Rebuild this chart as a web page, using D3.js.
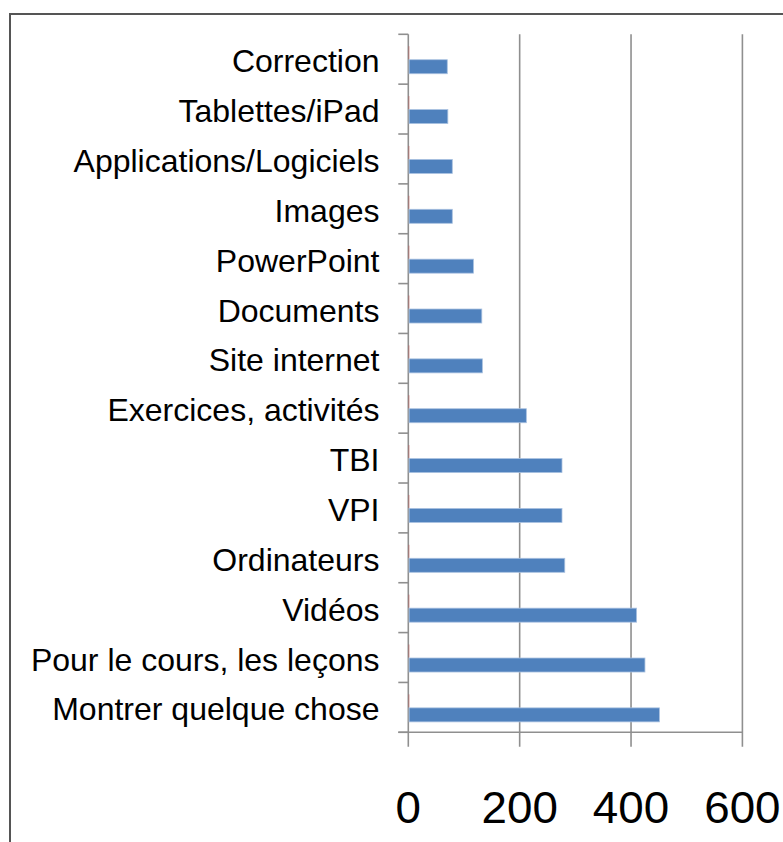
<!DOCTYPE html>
<html><head><meta charset="utf-8">
<script src="https://cdn.jsdelivr.net/npm/d3@7"></script>
<style>html,body{margin:0;padding:0;background:#fff;overflow:hidden}</style>
</head><body>
<svg id="chart" width="783" height="842"></svg>
<script>
const categories = ["Correction","Tablettes/iPad","Applications/Logiciels","Images","PowerPoint","Documents","Site internet","Exercices, activités","TBI","VPI","Ordinateurs","Vidéos","Pour le cours, les leçons","Montrer quelque chose"];
const seriesNames = ["Série 1","Série 2"];
const series1 = [0,0,0,0,0,0,0,0,0,0,0,0,0,0];
const series2 = [70,71,79,79,117,132,133,212,276,276,281,410,425,451];
const xTicks = [0,200,400,600];

(function(){
const svg = d3.select("#chart");
svg.append("rect").attr("x",10).attr("y",14).attr("width",820).attr("height",860)
  .attr("fill","#fff").attr("stroke","#555").attr("stroke-width",2);

const pLeft = 408.3, pRight = 742.4, pTop = 34.3, pBottom = 732.3;
const x = d3.scaleLinear().domain([0,600]).range([pLeft,pRight]);
const y = d3.scaleBand().domain(categories).range([pTop,pBottom]).padding(0);
const bw = y.bandwidth();
const ySub = d3.scaleBand().domain(seriesNames).range([bw/2-14, bw/2+14]).padding(0);
const axisColor = "#8f8f8f";

const g = svg.append("g");
g.selectAll("line.grid").data(xTicks.slice(1)).join("line")
  .attr("x1",d=>x(d)).attr("x2",d=>x(d)).attr("y1",pTop).attr("y2",pBottom+14.5)
  .attr("stroke",axisColor).attr("stroke-width",1.6);

g.append("line").attr("x1",pLeft-10).attr("x2",pRight).attr("y1",pBottom).attr("y2",pBottom)
  .attr("stroke",axisColor).attr("stroke-width",1.6);
g.append("line").attr("x1",x(0)).attr("x2",x(0)).attr("y1",pTop).attr("y2",pBottom+14.5)
  .attr("stroke",axisColor).attr("stroke-width",1.6);

const bounds = categories.map(c=>y(c)).concat([pBottom]);
g.selectAll("line.ctick").data(bounds).join("line")
  .attr("x1",pLeft-10).attr("x2",pLeft).attr("y1",d=>d).attr("y2",d=>d)
  .attr("stroke",axisColor).attr("stroke-width",1.6);

svg.append("g").selectAll("rect").data(series1).join("rect")
  .attr("x",x(0)).attr("y",(d,i)=>y(categories[i])+ySub(seriesNames[0])+1)
  .attr("width",d=>Math.max(1.2,x(d)-x(0))).attr("height",ySub.bandwidth()-1)
  .attr("fill","#c0504d").attr("opacity",0.45);

svg.append("g").selectAll("rect").data(series2).join("rect")
  .attr("x",x(0)+0.8).attr("y",(d,i)=>y(categories[i])+ySub(seriesNames[1])+0.5)
  .attr("width",d=>x(d)-x(0)-0.8).attr("height",ySub.bandwidth())
  .attr("fill","#4f81bd").attr("stroke","#a9c1e0").attr("stroke-width",0.8);

svg.append("g").selectAll("text").data(categories).join("text")
  .attr("x",379.5).attr("y",d=>y(d)+bw/2+13)
  .attr("text-anchor","end")
  .attr("font-family","'Liberation Sans', Arial, sans-serif")
  .attr("font-size",32).attr("fill","#000").text(d=>d);

svg.append("g").selectAll("text").data(xTicks).join("text")
  .attr("transform",d=>`translate(${x(d)},823.3) scale(1.04,1)`)
  .attr("text-anchor","middle")
  .attr("font-family","'Liberation Sans', Arial, sans-serif")
  .attr("font-size",44).attr("fill","#000").text(d=>d);
})();
</script>
</body></html>
